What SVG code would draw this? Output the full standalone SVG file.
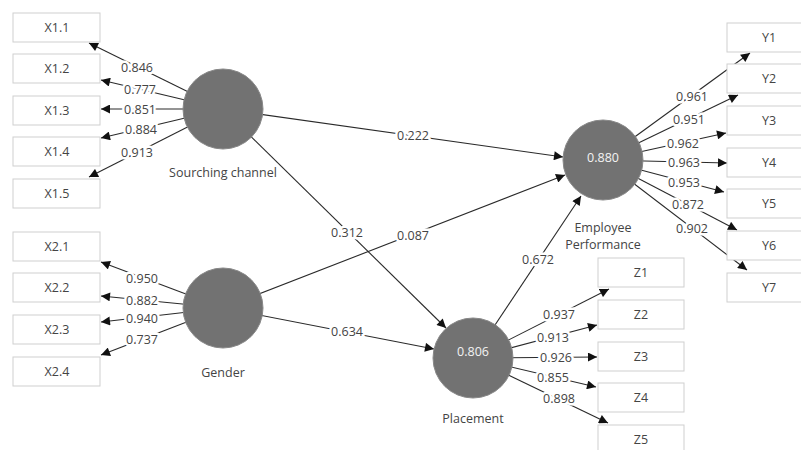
<svg xmlns="http://www.w3.org/2000/svg" width="801" height="450" viewBox="0 0 801 450">
<defs>
<marker id="ah" viewBox="0 0 10 10" refX="10" refY="5" markerWidth="10" markerHeight="9" markerUnits="userSpaceOnUse" orient="auto">
<path d="M0,0 L10,5 L0,10 z" fill="#111"/>
</marker>
<style>
.c line{stroke:#2a2a2a;stroke-width:1.1;marker-end:url(#ah)}
.c text{font-family:"Open Sans","Noto Sans",sans-serif;font-size:12.5px;fill:#444;text-anchor:middle;dominant-baseline:central;stroke:#fff;stroke-width:5;paint-order:stroke;stroke-linejoin:round}
.box rect{fill:#fff;stroke:#cfcfcf;stroke-width:1}
.box text,.lv text{font-family:"Open Sans","Noto Sans",sans-serif;font-size:12.5px;fill:#444;text-anchor:middle;dominant-baseline:central}
.lv circle{fill:#727272;stroke:#888;stroke-width:1}
.lv text.in{fill:#f2f2f2}
</style>
</defs>
<rect width="801" height="450" fill="#fff"/>
<g id="connectors" class="c">
<line x1="223" y1="109" x2="563" y2="157"/>
<line x1="223" y1="109" x2="446" y2="328"/>
<line x1="223" y1="308" x2="565" y2="175"/>
<line x1="223" y1="308" x2="434" y2="349"/>
<line x1="473" y1="358" x2="581" y2="196"/>
<text x="413" y="135">0.222</text>
<text x="347" y="232">0.312</text>
<text x="413" y="235">0.087</text>
<text x="347" y="331">0.634</text>
<text x="538" y="259">0.672</text>
<line x1="223" y1="109" x2="89" y2="43"/>
<line x1="223" y1="109" x2="101" y2="80"/>
<line x1="223" y1="109" x2="101" y2="109"/>
<line x1="223" y1="109" x2="101" y2="138"/>
<line x1="223" y1="109" x2="89" y2="177"/>
<text x="137" y="67">0.846</text>
<text x="140" y="89">0.777</text>
<text x="140" y="109">0.851</text>
<text x="141" y="129">0.884</text>
<text x="137" y="152">0.913</text>
<line x1="223" y1="308" x2="101" y2="262"/>
<line x1="223" y1="308" x2="101" y2="296"/>
<line x1="223" y1="308" x2="101" y2="322"/>
<line x1="223" y1="308" x2="101" y2="355"/>
<text x="142" y="278">0.950</text>
<text x="142" y="300">0.882</text>
<text x="142" y="318">0.940</text>
<text x="142" y="339">0.737</text>
<line x1="603" y1="160" x2="750" y2="53"/>
<line x1="603" y1="160" x2="738" y2="95"/>
<line x1="603" y1="160" x2="726" y2="133"/>
<line x1="603" y1="160" x2="727" y2="163"/>
<line x1="603" y1="160" x2="724" y2="192"/>
<line x1="603" y1="160" x2="737" y2="230"/>
<line x1="603" y1="160" x2="747" y2="270"/>
<text x="692" y="96">0.961</text>
<text x="689" y="119">0.951</text>
<text x="683" y="143">0.962</text>
<text x="684" y="162">0.963</text>
<text x="684" y="182">0.953</text>
<text x="688" y="204">0.872</text>
<text x="692" y="228">0.902</text>
<line x1="473" y1="358" x2="609" y2="289"/>
<line x1="473" y1="358" x2="597" y2="325"/>
<line x1="473" y1="358" x2="597" y2="357"/>
<line x1="473" y1="358" x2="596" y2="387"/>
<line x1="473" y1="358" x2="608" y2="423"/>
<text x="559" y="314">0.937</text>
<text x="553" y="337">0.913</text>
<text x="556" y="357">0.926</text>
<text x="553" y="377">0.855</text>
<text x="559" y="398">0.898</text>
</g>
<g id="sourching_channel" class="lv"><circle cx="223" cy="109" r="40"/><text x="223" y="172">Sourching channel</text></g>
<g id="gender" class="lv"><circle cx="223" cy="308" r="40"/><text x="223" y="372">Gender</text></g>
<g id="employee_performance" class="lv"><circle cx="603" cy="160" r="40"/><text class="in" x="603" y="157">0.880</text><text x="603" y="227">Employee</text><text x="603" y="244">Performance</text></g>
<g id="placement" class="lv"><circle cx="473" cy="358" r="40"/><text class="in" x="473" y="351">0.806</text><text x="473" y="418">Placement</text></g>
<g id="X1.1" class="box"><rect x="13" y="13" width="87" height="29"/><text x="57" y="27">X1.1</text></g>
<g id="X1.2" class="box"><rect x="13" y="54" width="87" height="29"/><text x="57" y="68">X1.2</text></g>
<g id="X1.3" class="box"><rect x="13" y="96" width="87" height="29"/><text x="57" y="110">X1.3</text></g>
<g id="X1.4" class="box"><rect x="13" y="137" width="87" height="29"/><text x="57" y="151">X1.4</text></g>
<g id="X1.5" class="box"><rect x="13" y="179" width="87" height="29"/><text x="57" y="193">X1.5</text></g>
<g id="X2.1" class="box"><rect x="13" y="232" width="87" height="29"/><text x="57" y="246">X2.1</text></g>
<g id="X2.2" class="box"><rect x="13" y="273" width="87" height="29"/><text x="57" y="287">X2.2</text></g>
<g id="X2.3" class="box"><rect x="13" y="315" width="87" height="29"/><text x="57" y="329">X2.3</text></g>
<g id="X2.4" class="box"><rect x="13" y="357" width="87" height="29"/><text x="57" y="371">X2.4</text></g>
<g id="Y1" class="box"><rect x="727" y="23" width="84" height="29"/><text x="769" y="37">Y1</text></g>
<g id="Y2" class="box"><rect x="727" y="64" width="84" height="29"/><text x="769" y="78">Y2</text></g>
<g id="Y3" class="box"><rect x="727" y="106" width="84" height="29"/><text x="769" y="120">Y3</text></g>
<g id="Y4" class="box"><rect x="727" y="148" width="84" height="29"/><text x="769" y="162">Y4</text></g>
<g id="Y5" class="box"><rect x="727" y="189" width="84" height="29"/><text x="769" y="203">Y5</text></g>
<g id="Y6" class="box"><rect x="727" y="231" width="84" height="29"/><text x="769" y="245">Y6</text></g>
<g id="Y7" class="box"><rect x="727" y="273" width="84" height="29"/><text x="769" y="287">Y7</text></g>
<g id="Z1" class="box"><rect x="598" y="258" width="86" height="29"/><text x="641" y="272">Z1</text></g>
<g id="Z2" class="box"><rect x="598" y="300" width="86" height="29"/><text x="641" y="314">Z2</text></g>
<g id="Z3" class="box"><rect x="598" y="342" width="86" height="29"/><text x="641" y="356">Z3</text></g>
<g id="Z4" class="box"><rect x="598" y="383" width="86" height="29"/><text x="641" y="397">Z4</text></g>
<g id="Z5" class="box"><rect x="598" y="425" width="86" height="29"/><text x="641" y="439">Z5</text></g>
</svg>
